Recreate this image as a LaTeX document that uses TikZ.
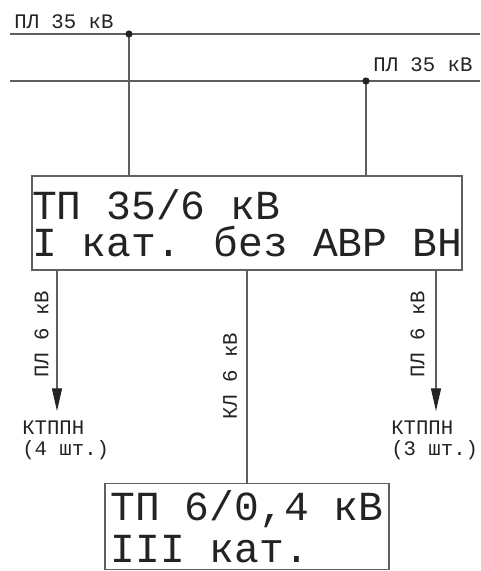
\documentclass[tikz,border=0pt]{standalone}
\usepackage{fontspec}
\usepackage{xcolor}
\usetikzlibrary{arrows.meta,positioning}
\setmainfont{Liberation Mono}
\definecolor{LineGray}{RGB}{95,95,95}
\definecolor{TextGray}{RGB}{35,35,35}

\begin{document}
\begin{tikzpicture}[x=0.75pt, y=-0.75pt,
	line/.style={LineGray, line width=0.9pt},
	feeder/.style={line, -{Triangle[length=17pt, width=7.5pt, color=TextGray]}},
	small/.style={text=TextGray, font=\fontsize{15.5}{15.75}\selectfont, inner sep=0pt},
	tpbox/.style={draw=LineGray, line width=0.9pt, text=TextGray, align=left, inner sep=0pt}]
	\useasboundingbox (0,0) rectangle (480,571);
	\clip (0,0) rectangle (480,571);

	% шины 35 кВ
	\coordinate (busA-w) at (10,34);
	\coordinate (busA-e) at (480,34);
	\coordinate (busB-w) at (10,81);
	\coordinate (busB-e) at (480,81);
	\draw[line] (busA-w) -- (busA-e);
	\draw[line] (busB-w) -- (busB-e);
	\node[small, anchor=base west] (lineA) at (14,28) {ПЛ 35 кВ};
	\node[small, anchor=base west] (lineB) at (373,71) {ПЛ 35 кВ};
	\coordinate (tapA) at (129,34);
	\coordinate (tapB) at (366,81);

	% ТП 35/6 кВ
	\node[tpbox, minimum width=321pt, minimum height=70.5pt,
		font=\fontsize{31}{27.75}\selectfont] (tp35) at (247,223)
		{ТП 35/6 кВ\\I кат. без АВР ВН};
	\draw[line] (tapA) -- (tapA |- tp35.north);
	\draw[line] (tapB) -- (tapB |- tp35.north);
	\fill[TextGray] (tapA) circle (2.7pt);
	\fill[TextGray] (tapB) circle (2.7pt);

	% отходящие ПЛ 6 кВ
	\coordinate (endL) at (57,411);
	\coordinate (endR) at (436,411);
	\draw[feeder] (tp35.south -| endL) -- (endL);
	\draw[feeder] (tp35.south -| endR) -- (endR);
	\node[small, rotate=90] (lblL) at (41.5,334) {ПЛ 6 кВ};
	\node[small, rotate=90] (lblR) at (417.5,334) {ПЛ 6 кВ};
	\node[small, align=left, anchor=north west] (ktpL) at (22,421) {КТППН\\(4 шт.)};
	\node[small, align=left, anchor=north west] (ktpR) at (391,421) {КТППН\\(3 шт.)};

	% КЛ 6 кВ на ТП 6/0,4 кВ
	\node[tpbox, minimum width=213pt, anchor=north, inner ysep=5pt,
		font=\fontsize{31}{31.5}\selectfont] (tp6) at (247,483)
		{ТП 6/0,4 кВ\\III кат.};
	\draw[line] (tp35.south) -- (tp6.north);
	\node[small, rotate=90] (lblM) at (230,376) {КЛ 6 кВ};
\end{tikzpicture}
\end{document}
